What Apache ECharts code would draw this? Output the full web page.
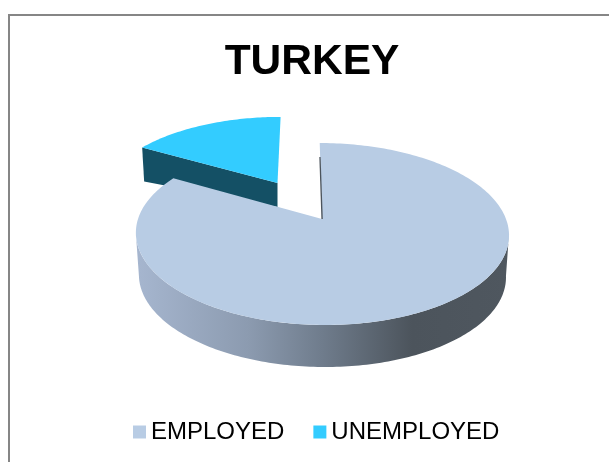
<!DOCTYPE html>
<html>
<head>
<meta charset="utf-8">
<style>html,body{margin:0;padding:0;background:#fff}#chart{width:609px;height:462px}</style>
<script src="https://cdn.jsdelivr.net/npm/echarts@6/dist/echarts.min.js"></script>
</head>
<body>
<div id="chart"></div>
<script>
// Share of the labour force, clockwise from twelve o'clock
const categories = ['EMPLOYED', 'UNEMPLOYED'];
const shares = [83.3, 16.7];
const topColors = ['#B8CCE4', '#33CCFF'];

const total = shares.reduce((a, b) => a + b, 0);
const TAU = Math.PI * 2;
const PERSPECTIVE = 0.165;
const employedEnd = TAU * shares[0] / total;

// Projects a point of the tilted disc: angle is clockwise from the far side
function project(disc, angle) {
  const u = Math.sin(angle), v = -Math.cos(angle);
  const w = 1 - PERSPECTIVE * v;
  const dy = disc.ry * v / w;
  return [disc.cx + disc.rx * u / w + disc.skew * dy, disc.cy + dy];
}
function arc(disc, from, to, steps) {
  const pts = [];
  for (let i = 0; i <= steps; i++) pts.push(project(disc, from + (to - from) * i / steps));
  return pts;
}
const poly = (points, fill, extra) => Object.assign({
  type: 'polygon', shape: { points }, style: { fill }, silent: true
}, extra || {});

function renderEmployed() {
  const disc = { cx: 322, cy: 219, rx: 184, ry: 88.5, skew: 0.03 };
  const foot = { cx: 322, cy: 261, rx: 181, ry: 88.5, skew: 0.03 };
  // Widest points of the ellipse bound the visible wall
  const edge = Math.acos(-PERSPECTIVE);
  const rim = arc(disc, edge, TAU - edge, 160);
  const base = arc(foot, TAU - edge, edge, 160);
  const wall = new echarts.graphic.LinearGradient(0, 0, 1, 0, [
    { offset: 0, color: '#a6b6cf' },
    { offset: 0.3, color: '#8c9bb0' },
    { offset: 0.5, color: '#6f7c8c' },
    { offset: 0.74, color: '#4c545c' },
    { offset: 1, color: '#4f575f' }
  ]);
  const top = [[disc.cx, disc.cy]].concat(arc(disc, 0, employedEnd, 240));
  const tip = project(disc, 0);
  const sliver = [
    [disc.cx - 0.6, disc.cy],
    [tip[0] - 0.4, tip[1] + 14],
    [tip[0] + 0.9, tip[1] + 14],
    [disc.cx + 0.8, disc.cy]
  ];
  return {
    type: 'group',
    children: [
      poly(rim.concat(base), wall),
      poly(top, topColors[0]),
      poly(sliver, '#4c545c')
    ]
  };
}

function renderUnemployed() {
  const disc = { cx: 277.5, cy: 183, rx: 171, ry: 77, skew: -0.047 };
  const cutDepthCentre = 24;
  const cutDepthRim = 34;
  const outer = project(disc, employedEnd);
  const face = [
    [disc.cx, disc.cy],
    outer,
    [outer[0] + 2, outer[1] + cutDepthRim],
    [disc.cx, disc.cy + cutDepthCentre]
  ];
  const top = [[disc.cx, disc.cy]].concat(arc(disc, employedEnd, TAU, 60));
  return {
    type: 'group',
    children: [poly(face, '#145065'), poly(top, topColors[1])]
  };
}

const chart = echarts.init(document.getElementById('chart'), null, { renderer: 'canvas' });
chart.setOption({
  animation: false,
  backgroundColor: '#ffffff',
  title: {
    text: 'TURKEY',
    left: 307,
    top: 36,
    textAlign: 'center',
    textStyle: { fontFamily: 'Liberation Sans', fontSize: 42.5, fontWeight: 'bold', color: '#000000' }
  },
  legend: {
    left: 128,
    top: 415,
    data: categories,
    icon: 'rect',
    itemWidth: 13,
    itemHeight: 13,
    itemGap: 29,
    textStyle: { fontFamily: 'Liberation Sans', fontSize: 24, color: '#000000' }
  },
  graphic: [{
    type: 'rect',
    shape: { x: 9, y: 15, width: 700, height: 500 },
    style: { fill: 'none', stroke: '#868686', lineWidth: 2 },
    silent: true,
    z: 0
  }],
  series: [
    { type: 'custom', name: categories[0], coordinateSystem: 'none', z: 3,
      data: [shares[0]], itemStyle: { color: topColors[0] }, renderItem: renderEmployed },
    { type: 'custom', name: categories[1], coordinateSystem: 'none', z: 2,
      data: [shares[1]], itemStyle: { color: topColors[1] }, renderItem: renderUnemployed }
  ]
});
</script>
</body>
</html>
